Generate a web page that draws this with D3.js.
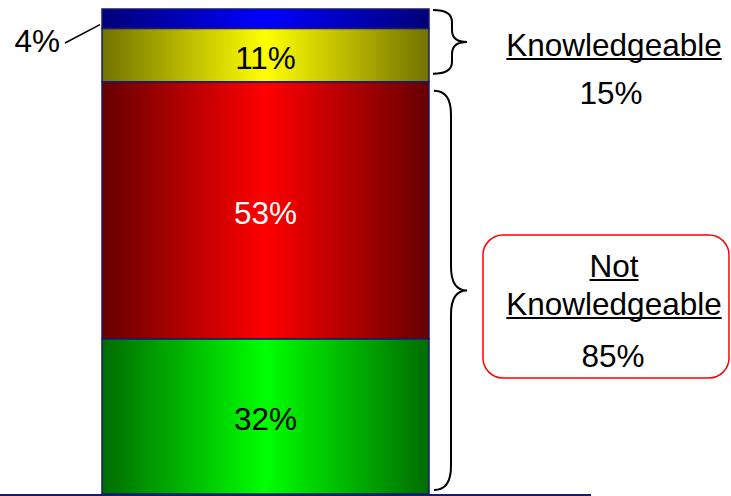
<!DOCTYPE html>
<html><head><meta charset="utf-8">
<script src="https://cdn.jsdelivr.net/npm/d3@7"></script>
<style>body{margin:0;background:#fff}svg{display:block;font-family:"Liberation Sans",Arial,sans-serif}</style>
</head><body><svg id="c" width="731" height="496"></svg>
<script>
// Data (bottom to top)
const segments = ["seg1", "seg2", "seg3", "seg4"];
const values = [32, 53, 11, 4];
const labels = ["32%", "53%", "11%", "4%"];
const darkColors = ["#006c00", "#660000", "#727200", "#000078"];
const brightColors = ["#00ff00", "#ff0000", "#ffff00", "#0000ff"];
const labelColors = ["#000", "#fff", "#000", "#000"];
const groupNames = ["Not Knowledgeable", "Knowledgeable"];
const groupValues = [85, 15];
const groupLabels = ["85%", "15%"];

const svg = d3.select("#c");
const y = d3.scaleLinear().domain([0, 100]).range([494, 9]);
const x = d3.scaleBand().domain(["bar"]).range([102, 429]).padding(0);

const defs = svg.append("defs");
segments.forEach((s, i) => {
  const g = defs.append("linearGradient").attr("id", "g" + i)
    .attr("x1", "0%").attr("x2", "100%").attr("y1", "0%").attr("y2", "0%");
  g.append("stop").attr("offset", "0%").attr("stop-color", darkColors[i]);
  g.append("stop").attr("offset", "50%").attr("stop-color", brightColors[i]);
  g.append("stop").attr("offset", "100%").attr("stop-color", darkColors[i]);
});

const stacked = [];
let acc = 0;
values.forEach((v, i) => { stacked.push({i, y0: acc, y1: acc + v}); acc += v; });

svg.selectAll("rect.seg").data(stacked).enter().append("rect")
  .attr("class", "seg")
  .attr("x", x("bar")).attr("width", x.bandwidth())
  .attr("y", d => y(d.y1)).attr("height", d => y(d.y0) - y(d.y1))
  .attr("fill", d => "url(#g" + d.i + ")")
  .attr("stroke", "#1a1a6e").attr("stroke-width", 1.5);

// axis baseline
svg.append("line").attr("x1", 0).attr("x2", 591).attr("y1", 495).attr("y2", 495)
  .attr("stroke", "#1a1a6e").attr("stroke-width", 2);

const fs = 31.5;
// in-bar labels (not the tiny top one)
svg.selectAll("text.seg").data(stacked.filter(d => d.i < 3)).enter().append("text")
  .attr("class", "seg")
  .attr("x", x("bar") + x.bandwidth() / 2)
  .attr("y", d => (y(d.y0) + y(d.y1)) / 2 + 14)
  .attr("text-anchor", "middle").attr("font-size", fs)
  .attr("fill", d => labelColors[d.i]).text(d => labels[d.i]);

// top small segment label with leader
const topSeg = stacked[3];
svg.append("text").attr("x", 60).attr("y", 52).attr("text-anchor", "end")
  .attr("font-size", fs).attr("fill", "#000").text(labels[3]);
svg.append("line").attr("x1", 65).attr("y1", 43).attr("x2", 100).attr("y2", (y(topSeg.y0) + y(topSeg.y1)) / 2 + 6)
  .attr("stroke", "#000").attr("stroke-width", 1.5);

// braces
function brace(x0, xm, xt, y0, y1, r) {
  const ym = (y0 + y1) / 2;
  return `M${x0},${y0} Q${xm},${y0} ${xm},${y0 + r} L${xm},${ym - r} Q${xm},${ym} ${xt},${ym}` +
         ` Q${xm},${ym} ${xm},${ym + r} L${xm},${y1 - r} Q${xm},${y1} ${x0},${y1}`;
}
svg.append("path").attr("d", brace(433, 452, 467, y(100) + 1, y(85) - 8, 12))
  .attr("fill", "none").attr("stroke", "#000").attr("stroke-width", 2);
svg.append("path").attr("d", brace(434, 451, 467, y(85) + 9, y(0) - 4, 24))
  .attr("fill", "none").attr("stroke", "#000").attr("stroke-width", 2);

function underlined(tx, ty, str) {
  const t = svg.append("text").attr("x", tx).attr("y", ty).attr("text-anchor", "middle")
    .attr("font-size", fs).attr("fill", "#000").text(str);
  const w = t.node().getComputedTextLength();
  svg.append("line").attr("x1", tx - w / 2).attr("x2", tx + w / 2)
    .attr("y1", ty + 3).attr("y2", ty + 3).attr("stroke", "#000").attr("stroke-width", 2);
}

// Knowledgeable group
underlined(614, 56, groupNames[1]);
svg.append("text").attr("x", 611).attr("y", 104).attr("text-anchor", "middle")
  .attr("font-size", fs).attr("fill", "#000").text(groupLabels[1]);

// Not Knowledgeable box
svg.append("rect").attr("x", 483).attr("y", 235).attr("width", 246).attr("height", 143)
  .attr("rx", 20).attr("ry", 20).attr("fill", "#fff").attr("stroke", "#ff0000").attr("stroke-width", 1.5);
const nk = groupNames[0].split(" ");
underlined(614, 277, nk[0]);
underlined(614, 315, nk[1]);
svg.append("text").attr("x", 613).attr("y", 367).attr("text-anchor", "middle")
  .attr("font-size", fs).attr("fill", "#000").text(groupLabels[0]);
</script></body></html>
